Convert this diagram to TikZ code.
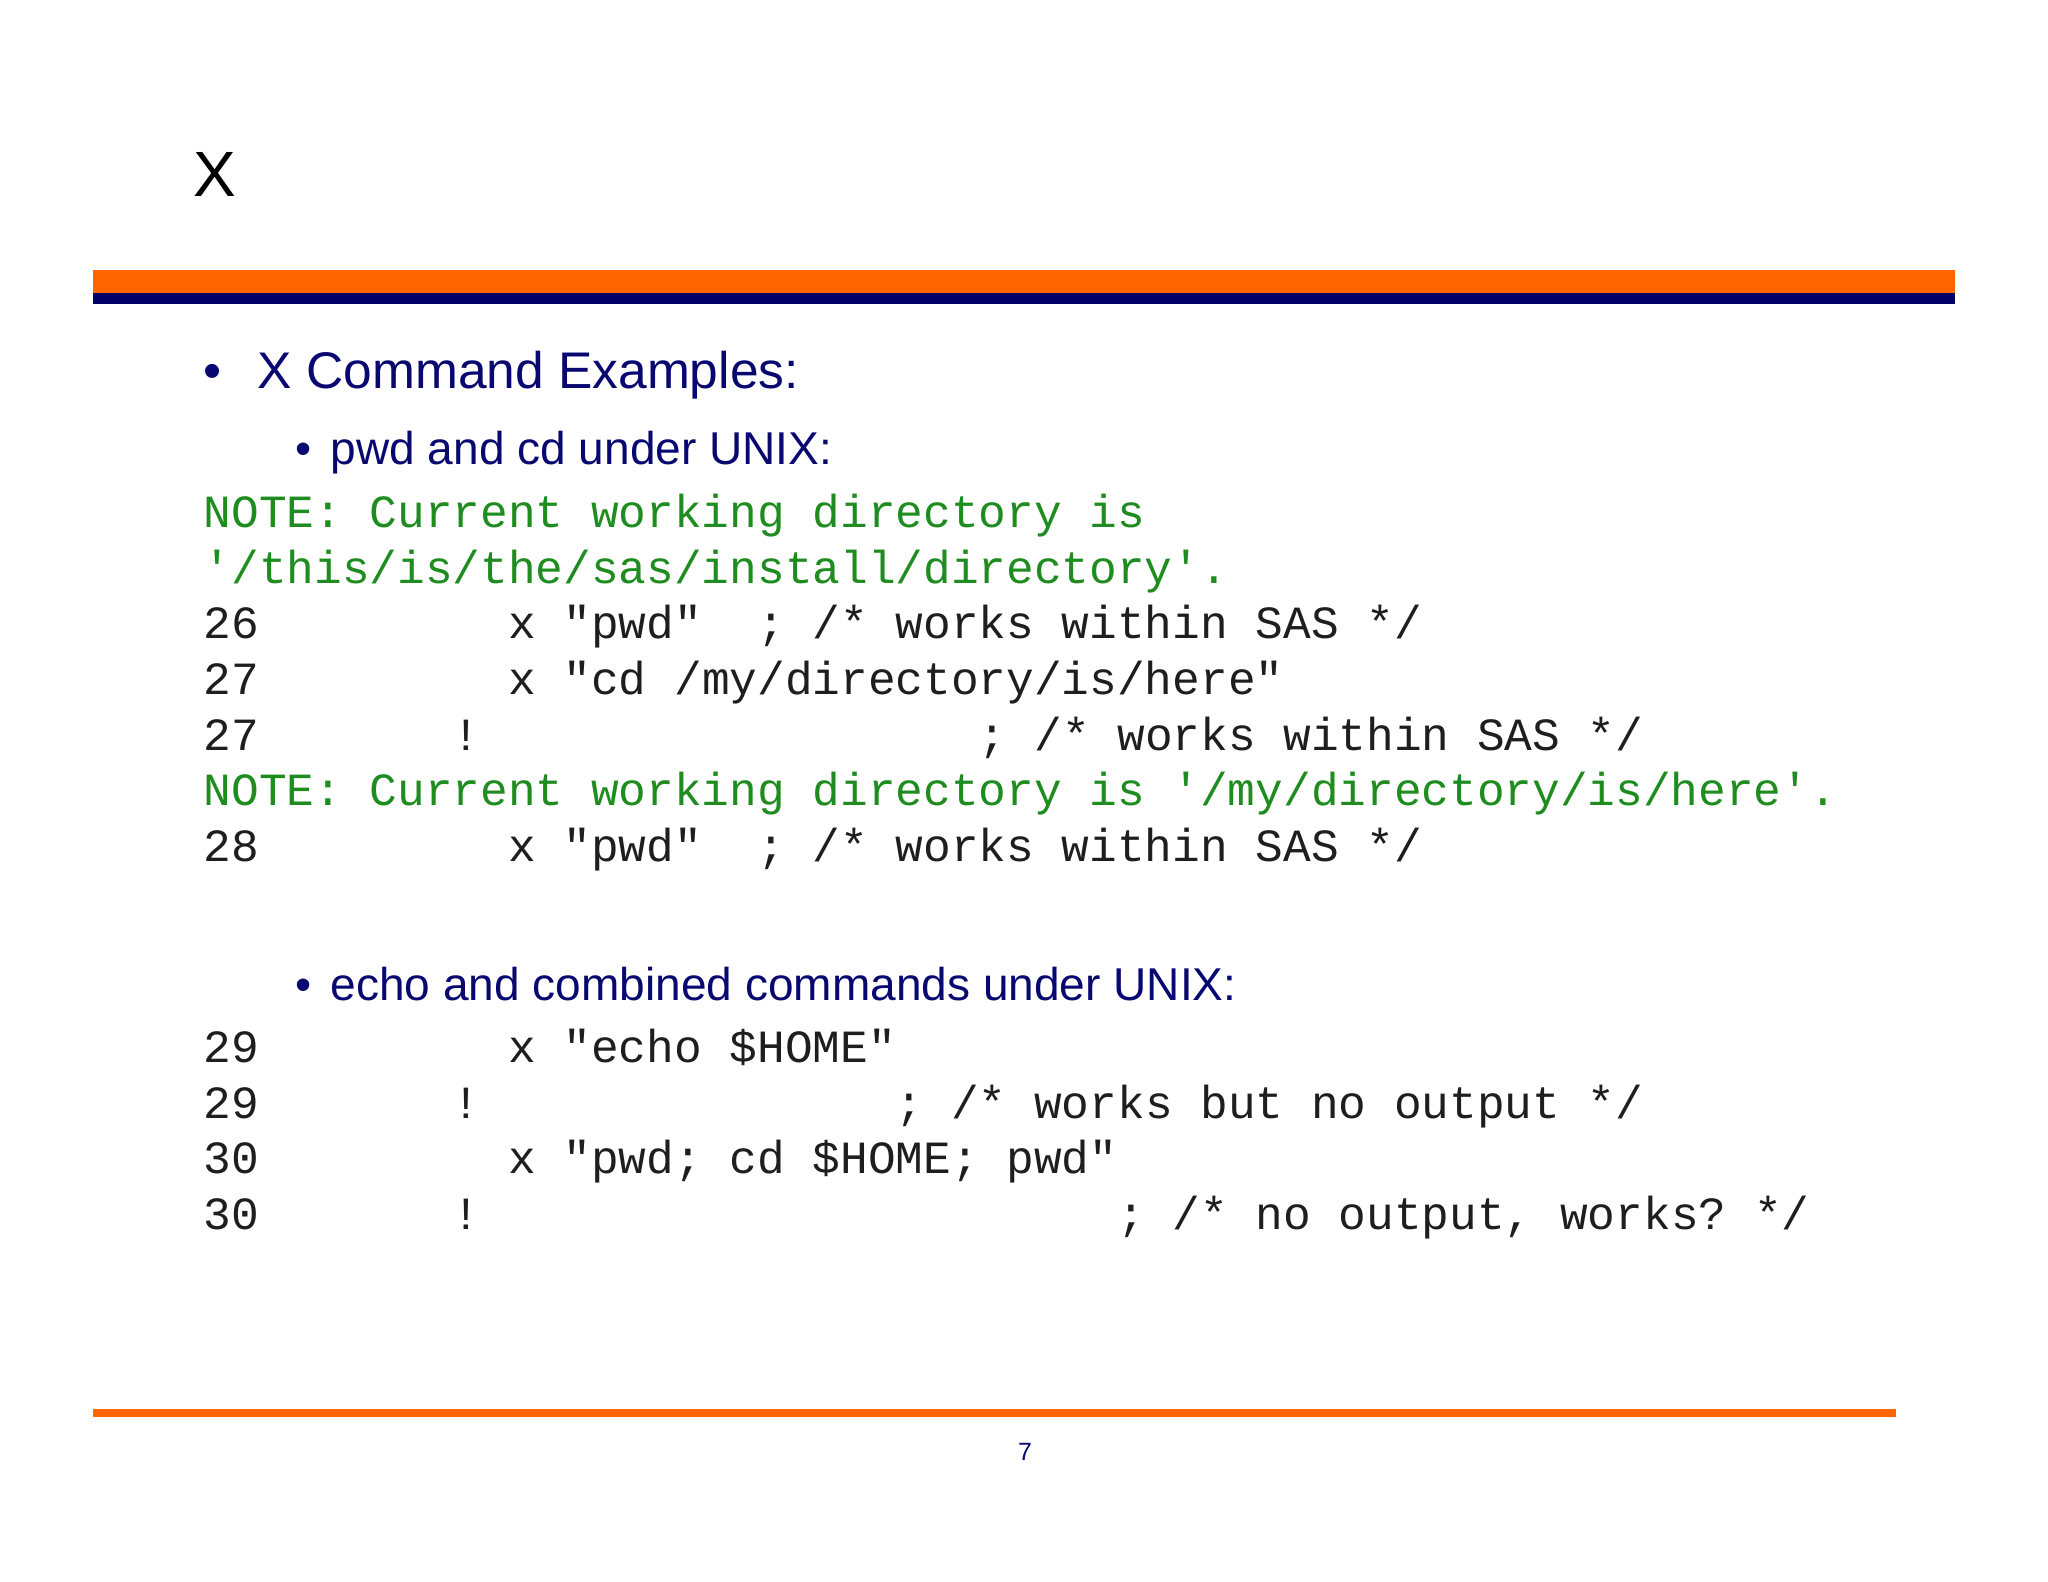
\documentclass[tikz,border=0pt]{standalone}
\usepackage{fontspec}
\setmainfont{Liberation Sans}
\setmonofont{Liberation Mono}
\definecolor{barorange}{HTML}{FF6600}
\definecolor{barnavy}{HTML}{000066}
\definecolor{headnavy}{RGB}{8,8,112}
\definecolor{notegreen}{RGB}{30,140,30}
\definecolor{codeblack}{RGB}{30,30,30}
\frenchspacing
\tikzset{
  titletext/.style={anchor=base west,inner sep=0pt,font=\fontsize{18.2}{20}\selectfont,text=black},
  headtext/.style={anchor=base west,inner sep=0pt,font=\fontsize{14.65}{16}\selectfont,text=headnavy},
  subtext/.style={anchor=base west,inner sep=0pt,font=\fontsize{13.09}{15}\selectfont,text=headnavy},
  codeline/.style={anchor=base west,inner sep=0pt,font=\ttfamily\fontsize{13.12}{15}\selectfont,text=codeblack},
  noteline/.style={codeline,text=notegreen},
  pagenum/.style={anchor=base,inner sep=0pt,font=\fontsize{7.1}{8}\selectfont,text=headnavy}
}
\begin{document}
\begin{tikzpicture}[x=0.01cm,y=-0.01cm]
\useasboundingbox (0,0) rectangle (2048,1582);
\fill[white] (0,0) rectangle (2048,1582);
% title
\node[titletext] (title) at (193,197) {X};
% bars
\fill[barorange] (93,270) rectangle (1955,293);
\fill[barnavy] (93,293) rectangle (1955,304);
\fill[barorange] (93,1409) rectangle (1896,1417);
% headings
\node[headtext] (b1) at (203,389) {•};
\node[headtext] (h1) at (257,389) {X Command Examples:};
\node[subtext] (b2) at (295,464) {•};
\node[subtext] (h2) at (330,464) {pwd and cd under UNIX:};
% first code block
\node[noteline] (c1) at (203,527) {NOTE:~Current~working~directory~is};
\node[noteline] (c2) at (203,583) {'/this/is/the/sas/install/directory'.};
\node[codeline] (c3) at (203,638) {26~~~~~~~~~x~"pwd"~~;~/*~works~within~SAS~*/};
\node[codeline] (c4) at (203,694) {27~~~~~~~~~x~"cd~/my/directory/is/here"};
\node[codeline] (c5) at (203,750) {27~~~~~~~!~~~~~~~~~~~~~~~~~~;~/*~works~within~SAS~*/};
\node[noteline] (c6) at (203,805) {NOTE:~Current~working~directory~is~'/my/directory/is/here'.};
\node[codeline] (c7) at (203,861) {28~~~~~~~~~x~"pwd"~~;~/*~works~within~SAS~*/};
% second heading
\node[subtext] (b3) at (295,1000) {•};
\node[subtext] (h3) at (330,1000) {echo and combined commands under UNIX:};
% second code block
\node[codeline] (d1) at (203,1062) {29~~~~~~~~~x~"echo~\$HOME"};
\node[codeline] (d2) at (203,1118) {29~~~~~~~!~~~~~~~~~~~~~~~;~/*~works~but~no~output~*/};
\node[codeline] (d3) at (203,1173) {30~~~~~~~~~x~"pwd;~cd~\$HOME;~pwd"};
\node[codeline] (d4) at (203,1229) {30~~~~~~~!~~~~~~~~~~~~~~~~~~~~~~~;~/*~no~output,~works?~*/};
% page number
\node[pagenum] (pg) at (1025,1460) {7};
\end{tikzpicture}
\end{document}
